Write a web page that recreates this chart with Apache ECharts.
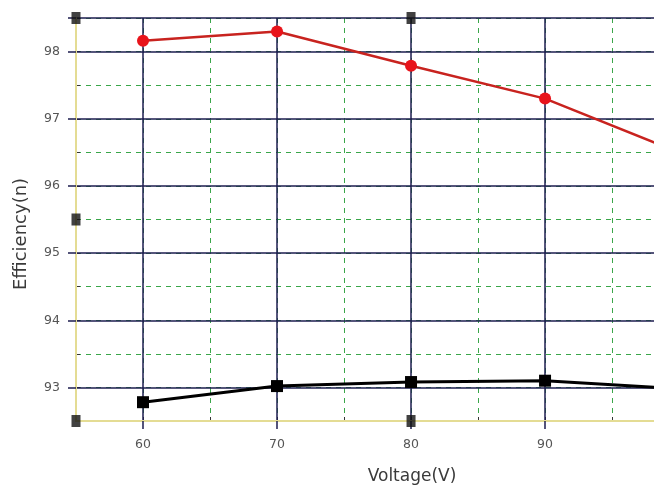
<!DOCTYPE html>
<html>
<head>
<meta charset="utf-8">
<script src="https://cdn.jsdelivr.net/npm/echarts@6/dist/echarts.min.js"></script>
<style>
  html, body { margin: 0; padding: 0; background: #fff; }
  #chart { width: 654px; height: 494px; }
</style>
</head>
<body>
<div id="chart"></div>
<script>
// voltage points
const voltage = [60, 70, 80, 90, 100]
// efficiency, upper (red) and lower (black) curves
const effRed = [98.16, 98.3, 97.79, 97.3, 96.5]
const effBlack = [92.78, 93.02, 93.08, 93.1, 92.98]

const xMajor = [60, 70, 80, 90]
const yMajor = [93, 94, 95, 96, 97, 98]
// solid horizontal lines: the labelled ones plus the top frame
const ySolid = [93, 94, 95, 96, 97, 98, 98.5]

// little black handles left over on the frame
const handleX = [55, 80, 55, 55, 80]
const handleY = [98.5, 98.5, 95.5, 92.5, 92.5]

const navy = '#1d1d4f'
const green = '#3aa64a'
const yellow = '#e4dc94'
const labelStyle = { color: '#555', fontSize: 12.5, fontFamily: 'DejaVu Sans' }

const chart = echarts.init(document.getElementById('chart'))

const option = {
  animation: false,
  textStyle: { fontFamily: 'DejaVu Sans, sans-serif' },
  grid: { left: 76, right: 0, top: 18, bottom: 73 },
  xAxis: [
    {
      // dashed half-step lines, the solid ones are drawn over them
      type: 'value', min: 55, max: 98.13, interval: 5, position: 'bottom',
      axisLine: { show: false },
      axisTick: { show: true, inside: true, length: 4, lineStyle: { color: '#333' } },
      axisLabel: { show: false },
      splitLine: { show: true, lineStyle: { color: green, type: [5, 5], width: 1 } }
    },
    {
      type: 'value', min: 55, max: 98.13, position: 'bottom', z: 1,
      axisLine: { show: true, lineStyle: { color: yellow, width: 2 } },
      axisTick: { show: true, length: 8, customValues: xMajor, lineStyle: { color: navy, width: 1.5 } },
      axisLabel: Object.assign({ customValues: xMajor, margin: 17 }, labelStyle),
      splitLine: { show: true, lineStyle: { color: navy, width: 1.5 } }
    }
  ],
  yAxis: [
    {
      type: 'value', min: 92.5, max: 98.5, interval: 0.5, position: 'left',
      axisLine: { show: false },
      axisTick: { show: true, inside: true, length: 4, lineStyle: { color: '#333' } },
      axisLabel: { show: false },
      splitLine: { show: true, lineStyle: { color: green, type: [5, 5], width: 1 } }
    },
    {
      type: 'value', min: 92.5, max: 98.5, position: 'left', z: 1,
      axisLine: { show: true, lineStyle: { color: yellow, width: 2 } },
      axisTick: { show: true, length: 8, customValues: ySolid, lineStyle: { color: navy, width: 1.5 } },
      axisLabel: Object.assign({ customValues: yMajor, margin: 16 }, labelStyle),
      splitLine: { show: true, lineStyle: { color: navy, width: 1.5 } }
    }
  ],
  graphic: [
    {
      type: 'text', x: 412, y: 477,
      style: {
        text: 'Voltage(V)', fill: '#3a3a3a', fontSize: 17,
        fontFamily: 'DejaVu Sans', align: 'center', verticalAlign: 'middle'
      }
    },
    {
      type: 'text', x: 21, y: 234, rotation: Math.PI / 2,
      style: {
        text: 'Efficiency(n)', fill: '#3a3a3a', fontSize: 18,
        fontFamily: 'DejaVu Sans', align: 'center', verticalAlign: 'middle'
      }
    }
  ],
  series: [
    {
      name: 'red', type: 'line', z: 5,
      data: voltage.map((v, i) => [v, effRed[i]]),
      lineStyle: { color: '#c8231f', width: 2.5 },
      itemStyle: { color: '#e8141b' },
      symbol: 'circle', symbolSize: 12, showAllSymbol: true
    },
    {
      name: 'black', type: 'line', z: 5,
      data: voltage.map((v, i) => [v, effBlack[i]]),
      lineStyle: { color: '#000', width: 3 },
      itemStyle: { color: '#000' },
      symbol: 'rect', symbolSize: 12, showAllSymbol: true
    },
    {
      name: 'handles', type: 'scatter', z: 6, clip: false,
      data: handleX.map((v, i) => [v, handleY[i]]),
      symbol: 'rect', symbolSize: [9, 12],
      itemStyle: { color: '#111' }
    }
  ]
}

chart.setOption(option)
</script>
</body>
</html>
